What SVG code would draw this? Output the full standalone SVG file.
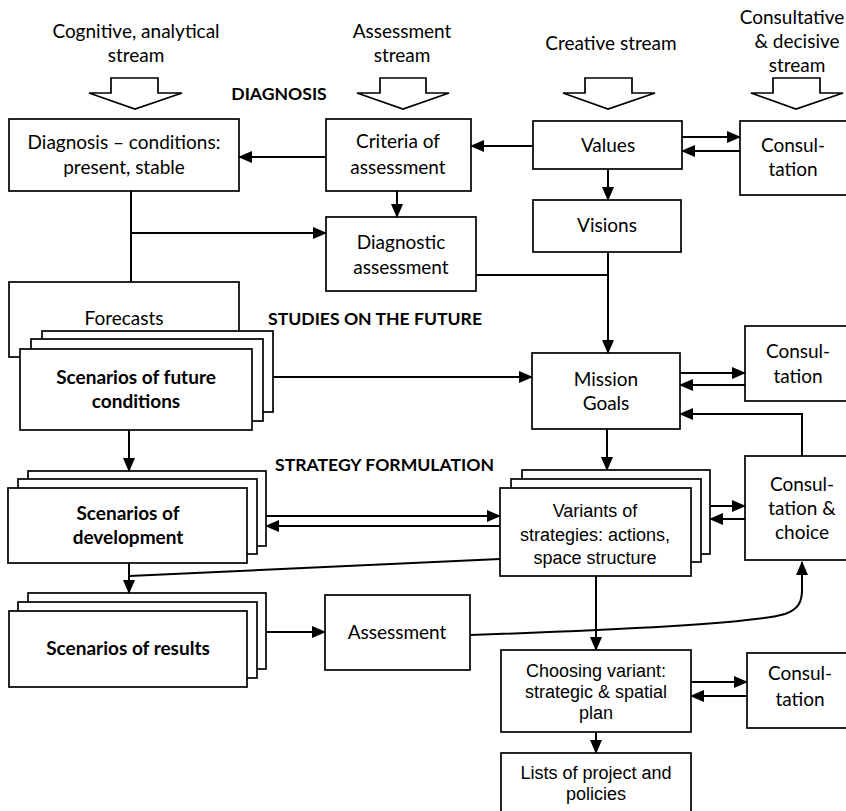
<svg xmlns="http://www.w3.org/2000/svg" width="846" height="811" viewBox="0 0 846 811">
<defs>
<marker id="ah" markerUnits="userSpaceOnUse" markerWidth="14" markerHeight="12" refX="13" refY="6" orient="auto">
<path d="M0,0 L14,6 L0,12 Z" fill="#000"/>
</marker>
<style>
.b{fill:#fff;stroke:#000;stroke-width:1.7}
.c{font-family:Lato,"Liberation Sans",sans-serif;font-size:19px;text-anchor:middle;fill:#000}
.cb{font-family:Lato,"Liberation Sans",sans-serif;font-size:19px;font-weight:bold;text-anchor:middle;fill:#000}
.h{font-family:Lato,"Liberation Sans",sans-serif;font-size:17.6px;font-weight:bold;fill:#000}
.a{font-family:"Liberation Sans",Arial,sans-serif;font-size:18px;text-anchor:middle;fill:#000}
.l{fill:none;stroke:#000;stroke-width:2}
.la{fill:none;stroke:#000;stroke-width:2;marker-end:url(#ah)}
.bk{fill:#fff;stroke:#000;stroke-width:1.7}
</style>
</defs>
<rect width="846" height="811" fill="#fff"/>

<g id="streams">
<text class="c" x="136" y="38">Cognitive, analytical</text>
<text class="c" x="136" y="62">stream</text>
<text class="c" x="402" y="38">Assessment</text>
<text class="c" x="402" y="62">stream</text>
<text class="c" x="611" y="50">Creative stream</text>
<text class="c" x="792" y="24">Consultative</text>
<text class="c" x="797" y="48">&amp; decisive</text>
<text class="c" x="797" y="72">stream</text>
<path class="bk" d="M111,78 H158 V93 H182 L135,109 L89,93 H111 Z"/>
<path class="bk" d="M380,78 H426 V93 H449 L403,109 L357,93 H380 Z"/>
<path class="bk" d="M585,78 H632 V93 H655 L608,109 L563,93 H585 Z"/>
<path class="bk" d="M773,78 H820 V93 H843 L796,109 L751,93 H773 Z"/>
</g>

<g id="headings">
<text class="h" x="279" y="100" text-anchor="middle">DIAGNOSIS</text>
<text class="h" x="268" y="325">STUDIES ON THE FUTURE</text>
<text class="h" x="275" y="471">STRATEGY FORMULATION</text>
</g>

<g id="connectors">
<line class="la" x1="533" y1="146" x2="471" y2="146"/>
<line class="la" x1="326" y1="157" x2="239" y2="157"/>
<line class="la" x1="682" y1="137" x2="740" y2="137"/>
<line class="la" x1="740" y1="151" x2="682" y2="151"/>
<line class="la" x1="608" y1="169" x2="608" y2="200"/>
<line class="la" x1="397" y1="191" x2="397" y2="217"/>
<line class="l" x1="131" y1="191" x2="131" y2="282"/>
<line class="la" x1="131" y1="233" x2="326" y2="233"/>
<line class="l" x1="476" y1="275" x2="608" y2="275"/>
<line class="la" x1="608" y1="252" x2="608" y2="353"/>
<line class="la" x1="273" y1="377" x2="532" y2="377"/>
<line class="la" x1="680" y1="373" x2="745" y2="373"/>
<line class="la" x1="745" y1="385" x2="680" y2="385"/>
<polyline class="la" points="802,456 802,414 680,414"/>
<line class="la" x1="607" y1="429" x2="607" y2="470"/>
<line class="la" x1="129" y1="430" x2="129" y2="471"/>
<line class="la" x1="266" y1="516" x2="500" y2="516"/>
<line class="la" x1="500" y1="526" x2="266" y2="526"/>
<line class="la" x1="710" y1="506" x2="745" y2="506"/>
<line class="la" x1="745" y1="519" x2="710" y2="519"/>
<line class="la" x1="129" y1="563" x2="129" y2="593"/>
<line class="l" x1="500" y1="559" x2="129" y2="576"/>
<line class="la" x1="266" y1="632" x2="325" y2="632"/>
<path class="la" d="M470,635 C620,630 755,623 785,614 C799,609 802,601 802,590 L802,562"/>
<line class="la" x1="596" y1="576" x2="596" y2="650"/>
<line class="la" x1="691" y1="682" x2="747" y2="682"/>
<line class="la" x1="747" y1="696" x2="691" y2="696"/>
<line class="la" x1="596" y1="732" x2="596" y2="753"/>
</g>

<g id="diagnosis">
<rect class="b" x="9" y="119" width="230" height="72"/>
<text class="c" x="124" y="149">Diagnosis – conditions:</text>
<text class="c" x="124" y="174">present, stable</text>
</g>
<g id="criteria">
<rect class="b" x="326" y="119" width="145" height="72"/>
<text class="c" x="398" y="148">Criteria of</text>
<text class="c" x="398" y="174">assessment</text>
</g>
<g id="values">
<rect class="b" x="533" y="121" width="149" height="48"/>
<text class="c" x="608" y="152">Values</text>
</g>
<g id="consultation1">
<rect class="b" x="740" y="121" width="115" height="74"/>
<text class="c" x="793" y="152">Consul-</text>
<text class="c" x="793" y="176">tation</text>
</g>
<g id="visions">
<rect class="b" x="533" y="200" width="148" height="52"/>
<text class="c" x="607" y="232">Visions</text>
</g>
<g id="diagnostic">
<rect class="b" x="326" y="217" width="150" height="74"/>
<text class="c" x="401" y="249">Diagnostic</text>
<text class="c" x="401" y="274">assessment</text>
</g>
<g id="forecasts">
<rect class="b" x="9" y="282" width="230" height="75"/>
<text class="c" x="124" y="325">Forecasts</text>
</g>
<g id="scenarios-future">
<rect class="b" x="42" y="331" width="231" height="81"/>
<rect class="b" x="31" y="339" width="232" height="82"/>
<rect class="b" x="20" y="349" width="232" height="81"/>
<text class="cb" x="136" y="384">Scenarios of future</text>
<text class="cb" x="136" y="408">conditions</text>
</g>
<g id="mission">
<rect class="b" x="532" y="353" width="148" height="76"/>
<text class="c" x="606" y="386">Mission</text>
<text class="c" x="606" y="410">Goals</text>
</g>
<g id="consultation2">
<rect class="b" x="745" y="326" width="110" height="75"/>
<text class="c" x="798" y="358">Consul-</text>
<text class="c" x="798" y="383">tation</text>
</g>
<g id="scenarios-development">
<rect class="b" x="28" y="471" width="238" height="75"/>
<rect class="b" x="18" y="479" width="239" height="75"/>
<rect class="b" x="8" y="488" width="239" height="75"/>
<text class="cb" x="128" y="520">Scenarios of</text>
<text class="cb" x="128" y="544">development</text>
</g>
<g id="variants">
<rect class="b" x="522" y="470" width="188" height="84"/>
<rect class="b" x="511" y="479" width="190" height="83"/>
<rect class="b" x="500" y="488" width="191" height="88"/>
<text class="a" x="595" y="517">Variants of</text>
<text class="a" x="595" y="541">strategies: actions,</text>
<text class="a" x="595" y="564">space structure</text>
</g>
<g id="consultation-choice">
<rect class="b" x="745" y="456" width="110" height="104"/>
<text class="c" x="802" y="491">Consul-</text>
<text class="c" x="802" y="515">tation &amp;</text>
<text class="c" x="802" y="539">choice</text>
</g>
<g id="scenarios-results">
<rect class="b" x="28" y="593" width="238" height="76"/>
<rect class="b" x="18" y="602" width="239" height="76"/>
<rect class="b" x="9" y="611" width="238" height="76"/>
<text class="cb" x="128" y="655">Scenarios of results</text>
</g>
<g id="assessment">
<rect class="b" x="325" y="595" width="145" height="75"/>
<text class="c" x="397" y="639">Assessment</text>
</g>
<g id="choosing">
<rect class="b" x="501" y="650" width="190" height="82"/>
<text class="a" x="596" y="677">Choosing variant:</text>
<text class="a" x="596" y="698">strategic &amp; spatial</text>
<text class="a" x="596" y="719">plan</text>
</g>
<g id="consultation3">
<rect class="b" x="747" y="653" width="108" height="75"/>
<text class="c" x="800" y="680">Consul-</text>
<text class="c" x="800" y="706">tation</text>
</g>
<g id="lists">
<rect class="b" x="501" y="753" width="190" height="70"/>
<text class="a" x="596" y="779">Lists of project and</text>
<text class="a" x="596" y="800">policies</text>
</g>
</svg>
